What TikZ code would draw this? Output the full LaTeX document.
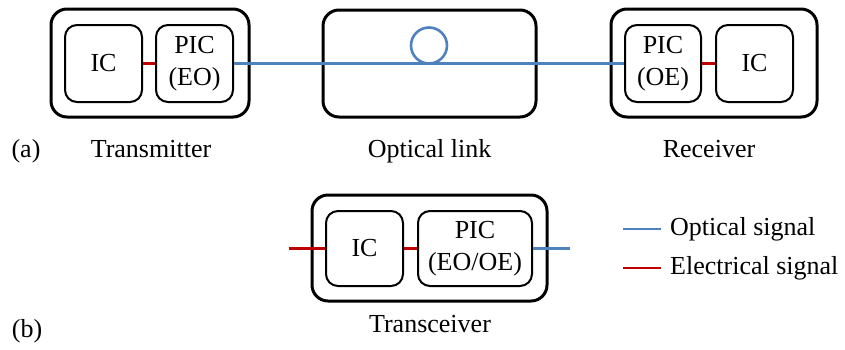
\documentclass[tikz,border=0pt]{standalone}
\usepackage{fontspec}
\setmainfont{Liberation Serif}
\usepackage{tikz}
\usepackage{xcolor}
\usetikzlibrary{positioning,calc}

\definecolor{optblue}{RGB}{79,129,189}
\definecolor{elecred}{RGB}{192,0,0}

\begin{document}
\begin{tikzpicture}[
    x=1pt, y=-1pt,
    font=\fontsize{26}{32}\selectfont,
    outer/.style={rectangle, draw=black, line width=3pt, rounded corners=16pt, inner sep=0pt},
    chip/.style={rectangle, draw=black, line width=2pt, rounded corners=12pt, minimum width=77pt, minimum height=77pt, inner sep=0pt, align=center},
    optical/.style={draw=optblue, line width=2.6pt},
    electrical/.style={draw=elecred, line width=2.6pt},
    caption/.style={anchor=base, inner sep=0pt}
]
\useasboundingbox (0,0) rectangle (845,349);

% (a) Transmitter, optical link, receiver
\node[outer, minimum width=198pt, minimum height=108pt] (tx) at (150,63) {};
\node[chip] (txic) at (103.5,63.5) {IC};
\node[chip] (txpic) at (194.5,63.5) {PIC\\(EO)};

\node[outer, minimum width=213pt, minimum height=107pt] (link) at (429.5,63.5) {};
\node[draw=optblue, line width=2.6pt, circle, minimum size=36pt, inner sep=0pt] (loop) at (429,45.5) {};

\node[outer, minimum width=206pt, minimum height=108pt] (rx) at (714,63) {};
\node[chip, minimum width=76pt] (rxpic) at (663,63.5) {PIC\\(OE)};
\node[chip] (rxic) at (754.5,63.5) {IC};

\draw[electrical] (txic) -- (txpic);
\draw[optical] (txpic) -- (rxpic);
\draw[electrical] (rxpic) -- (rxic);

\node[caption] (alabel) at (26,157) {(a)};
\node[caption] (txlabel) at (151,157) {Transmitter};
\node[caption] (linklabel) at (429.5,157) {Optical link};
\node[caption] (rxlabel) at (709,157) {Receiver};

% (b) Transceiver
\node[outer, minimum width=235pt, minimum height=106pt] (trx) at (429.5,248) {};
\node[chip, minimum height=75pt] (trxic) at (364.5,248.5) {IC};
\node[chip, minimum width=114pt, minimum height=75pt] (trxpic) at (475,248.5) {PIC\\(EO/OE)};

\coordinate (ein) at (289,248.5);
\coordinate (oout) at (570,248.5);
\draw[electrical] (ein) -- (trxic);
\draw[electrical] (trxic) -- (trxpic);
\draw[optical] (trxpic) -- (oout);

\node[caption] (blabel) at (27,337) {(b)};
\node[caption] (trxlabel) at (430,332) {Transceiver};

% Legend
\coordinate (optA) at (623,229);
\coordinate (optB) at (661,229);
\coordinate (elA) at (623,268);
\coordinate (elB) at (661,268);
\draw[optical] (optA) -- (optB);
\draw[electrical] (elA) -- (elB);
\node[anchor=west, inner sep=0pt] (opttext) at (670,229) {Optical signal};
\node[anchor=west, inner sep=0pt] (eltext) at (670,268) {Electrical signal};

\end{tikzpicture}
\end{document}
